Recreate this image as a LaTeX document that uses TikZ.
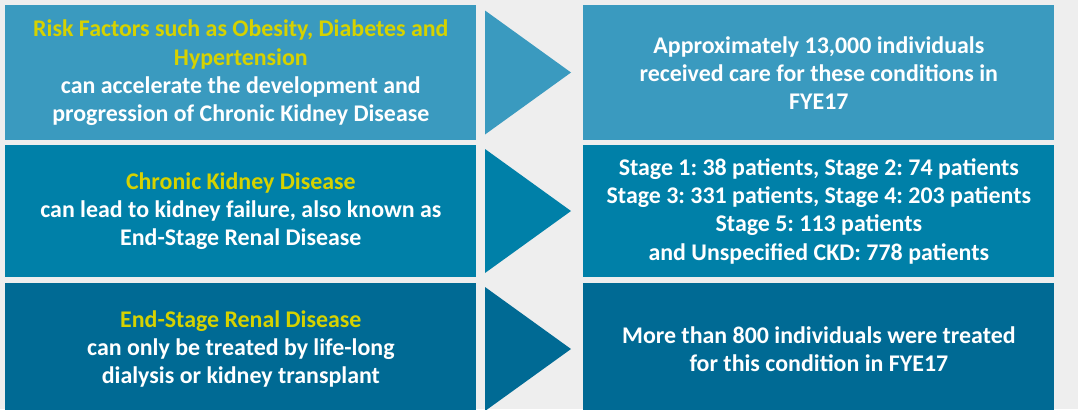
\documentclass[tikz,border=0pt]{standalone}
\usepackage{fontspec}
\setmainfont{Carlito}
\frenchspacing
\definecolor{paper}{HTML}{EEEEEE}
\definecolor{rowa}{HTML}{3A9ABF}
\definecolor{rowb}{HTML}{0080A8}
\definecolor{rowc}{HTML}{006A94}
\definecolor{hilite}{HTML}{D6D200}
\newcommand{\hl}[1]{\textcolor{hilite}{#1}}
\begin{document}
\begin{tikzpicture}
[
    x=0.025cm, y=-0.025cm,
    box/.style={anchor=north west, inner sep=0pt, minimum width=11.775cm,
                text=white, align=center, font=\fontsize{17}{20}\selectfont\bfseries},
    rowa/.style={box, fill=rowa, minimum height=3.375cm},
    rowb/.style={box, fill=rowb, minimum height=3.3cm},
    rowc/.style={box, fill=rowc, minimum height=3.3cm}
]
    \fill[paper] (0,0) rectangle (1078,409);
    \useasboundingbox (0,0) rectangle (1078,409);

    % risk factors
    \node[rowa] (risk) at (5,5)
        {\hl{Risk Factors such as Obesity, Diabetes and}\\
         \hl{Hypertension}\\
         can accelerate the development and\\
         progression of Chronic Kidney Disease};
    \node[rowa] (care) at (583,5)
        {Approximately 13,000 individuals\\
         received care for these conditions in\\
         FYE17};

    % chronic kidney disease
    \node[rowb] (ckd) at (5,145)
        {\hl{Chronic Kidney Disease}\\
         can lead to kidney failure, also known as\\
         End-Stage Renal Disease};
    \node[rowb] (stages) at (583,145)
        {Stage 1: 38 patients, Stage 2: 74 patients\\
         Stage 3: 331 patients, Stage 4: 203 patients\\
         Stage 5: 113 patients\\
         and Unspecified CKD: 778 patients};

    % end-stage renal disease
    \node[rowc] (esrd) at (5,283)
        {\hl{End-Stage Renal Disease}\\
         can only be treated by life-long\\
         dialysis or kidney transplant};
    \node[rowc] (treated) at (583,283)
        {More than 800 individuals were treated\\
         for this condition in FYE17};

    % arrow heads between the columns
    \foreach \y/\c in {72.5/rowa, 211/rowb, 349/rowc}
        \fill[\c] (485,\y-62) -- (571,\y) -- (485,\y+62) -- cycle;
\end{tikzpicture}
\end{document}
